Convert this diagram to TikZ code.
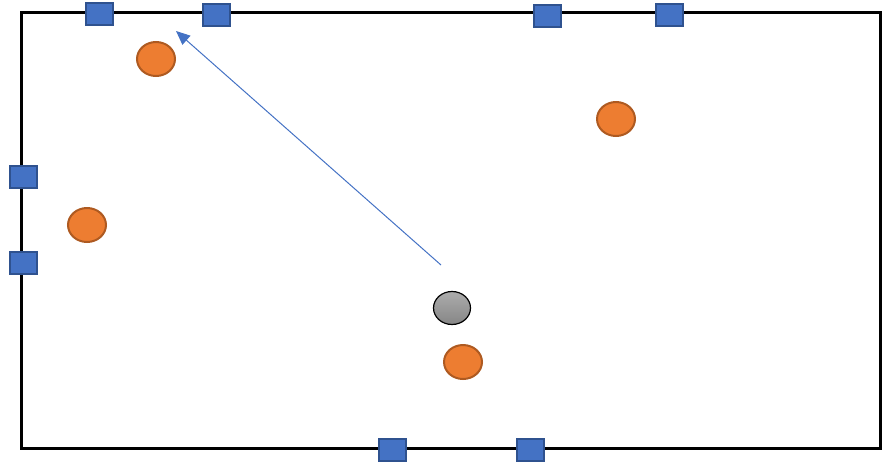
\documentclass[tikz,border=0pt]{standalone}
\usepackage{tikz}
\usetikzlibrary{shapes, arrows.meta, positioning, calc}
\definecolor{sensorblue}{RGB}{68, 114, 196}
\definecolor{sensoredge}{RGB}{47, 82, 143}
\definecolor{nodeorange}{RGB}{237, 125, 49}
\definecolor{orangeedge}{RGB}{174, 90, 33}

\begin{document}
\begin{tikzpicture}[x=1pt, y=-1pt,
  anchorbox/.style={draw=sensoredge, fill=sensorblue, line width=2pt, minimum width=27pt, minimum height=22pt, inner sep=0pt},
  target/.style={ellipse, draw=orangeedge, fill=nodeorange, line width=2pt, minimum width=38pt, minimum height=34pt, inner sep=0pt},
  agent/.style={ellipse, draw=black, top color=gray!65, bottom color=gray!95, line width=1.2pt, minimum width=37pt, minimum height=33pt, inner sep=0pt}
]
  \useasboundingbox (0,0) rectangle (883,461);
  \draw[line width=3pt] (21,12) rectangle (880,448);

  % anchors on the border
  \node[anchorbox] (a1) at (99,14) {};
  \node[anchorbox] (a2) at (216,15) {};
  \node[anchorbox] (a3) at (547,16) {};
  \node[anchorbox] (a4) at (669,15) {};
  \node[anchorbox] (a5) at (23,177) {};
  \node[anchorbox] (a6) at (23,263) {};
  \node[anchorbox] (a7) at (392,450) {};
  \node[anchorbox] (a8) at (530,450) {};

  % targets
  \node[target] (t1) at (156,59) {};
  \node[target] (t2) at (87,225) {};
  \node[target] (t3) at (616,119) {};
  \node[target] (t4) at (463,362) {};

  \node[agent] (robot) at (452,308) {};

  \coordinate (start) at (441,265);
  \coordinate (goal) at (176,31);
  \draw[sensorblue, line width=1pt, -{Triangle[length=14pt, width=12pt]}] (start) -- (goal);
\end{tikzpicture}
\end{document}
